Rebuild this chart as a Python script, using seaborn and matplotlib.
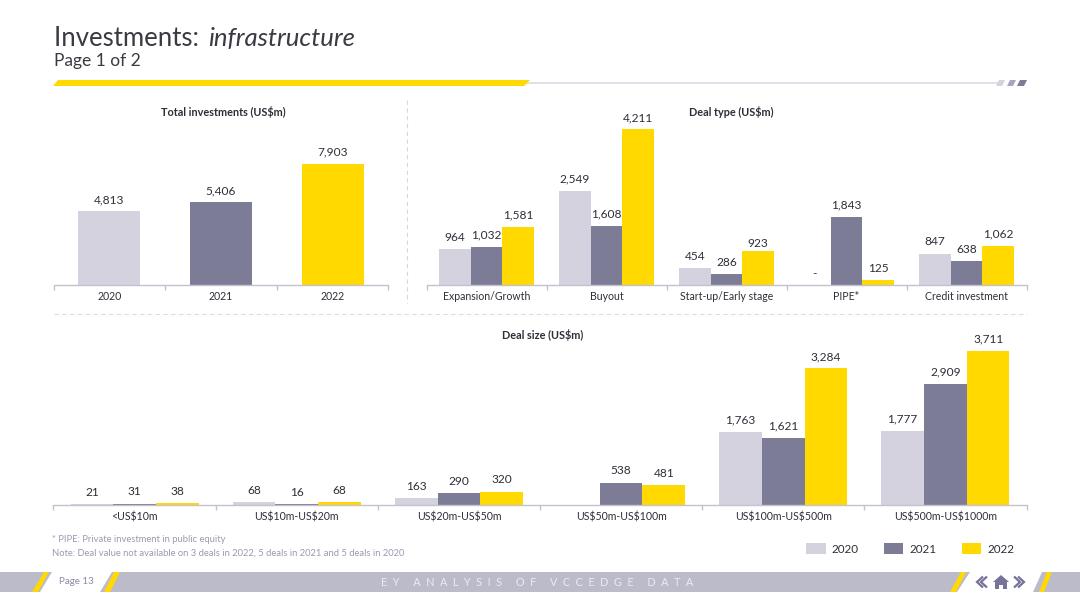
import numpy as np
import pandas as pd
import matplotlib
matplotlib.use("Agg")
import matplotlib.pyplot as plt
from matplotlib.patches import Polygon, Patch
import seaborn as sns

years = ["2020", "2021", "2022"]
total_values = [4813, 5406, 7903]

deal_types = ["Expansion/Growth", "Buyout", "Start-up/Early stage", "PIPE*", "Credit investment"]
type_2020 = [964, 2549, 454, np.nan, 847]
type_2021 = [1032, 1608, 286, 1843, 638]
type_2022 = [1581, 4211, 923, 125, 1062]

deal_sizes = ["<US$10m", "US$10m-US$20m", "US$20m-US$50m", "US$50m-US$100m", "US$100m-US$500m", "US$500m-US$1000m"]
size_2020 = [21, 68, 163, np.nan, 1763, 1777]
size_2021 = [31, 16, 290, 538, 1621, 2909]
size_2022 = [38, 68, 320, 481, 3284, 3711]

LIGHT, MID, YEL = "#d4d2de", "#7c7c96", "#ffd900"
palette = dict(zip(years, [LIGHT, MID, YEL]))
INK = "#2e2e38"
AXC = "#c4c2d0"
ICON = "#75739a"
W, H = 1080, 608
LABEL_SIZE = 8.6
TICK_SIZE = 7.6

sns.set_theme(style="white")
plt.rcParams["font.family"] = ["Lato", "DejaVu Sans"]
plt.rcParams["text.parse_math"] = False
fig = plt.figure(figsize=(W / 100, H / 100), dpi=100, facecolor="white")


def axes_px(l, t, r, b):
    return fig.add_axes([l / W, 1 - b / H, (r - l) / W, (b - t) / H], facecolor="none")


def long_form(cats, a, b, c):
    return pd.DataFrame({
        "cat": list(cats) * 3,
        "year": [years[0]] * len(cats) + [years[1]] * len(cats) + [years[2]] * len(cats),
        "val": list(a) + list(b) + list(c),
    })


def style(ax, cats, ymax):
    n = len(cats)
    ax.set_ylim(0, ymax)
    ax.set_xlim(-0.5, n - 0.5)
    ax.set_xlabel("")
    ax.set_ylabel("")
    ax.set_yticks([])
    for s in ["top", "left", "right"]:
        ax.spines[s].set_visible(False)
    ax.spines["bottom"].set_color(AXC)
    ax.spines["bottom"].set_linewidth(1)
    ax.set_xticks(range(n))
    ax.set_xticklabels(cats, fontsize=TICK_SIZE, color=INK)
    ax.tick_params(axis="x", which="major", length=0, pad=4.5)
    ax.set_xticks(np.arange(n + 1) - 0.5, minor=True)
    ax.tick_params(axis="x", which="minor", bottom=True, length=3.5, color=AXC, width=1, direction="out")


def add_labels(ax):
    out = []
    for c in ax.containers:
        out.append(ax.bar_label(c, fmt="{:,.0f}", padding=4.5, fontsize=LABEL_SIZE, color=INK))
    return out


# Panel 1
ax1 = axes_px(53.5, 100, 388.5, 285)
df1 = pd.DataFrame({"cat": years, "year": years, "val": total_values})
sns.barplot(data=df1, x="cat", y="val", hue="year", palette=palette, width=0.556,
            dodge=False, legend=False, ax=ax1, saturation=1, linewidth=0)
style(ax1, years, 12090)
add_labels(ax1)

# Panel 2
ax2 = axes_px(426.5, 100, 1026.5, 285)
sns.barplot(data=long_form(deal_types, type_2020, type_2021, type_2022), x="cat", y="val", hue="year",
            palette=palette, width=0.79, gap=0, legend=False, ax=ax2, saturation=1, linewidth=0)
style(ax2, deal_types, 5000)
labels2 = add_labels(ax2)
labels2[2][2].xyann = (0, 1.5)
ax2.annotate("-", (deal_types.index("PIPE*") - 0.79 / 3, 0), xytext=(0, 6), textcoords="offset points",
             ha="center", fontsize=LABEL_SIZE, color=INK)

# Panel 3
ax3 = axes_px(53.5, 325, 1026.5, 505)
sns.barplot(data=long_form(deal_sizes, size_2020, size_2021, size_2022), x="cat", y="val", hue="year",
            palette=palette, width=0.79, gap=0, legend=False, ax=ax3, saturation=1, linewidth=0)
style(ax3, deal_sizes, 4325)
add_labels(ax3)

# Overlay in pixel coordinates for page furniture
ov = fig.add_axes([0, 0, 1, 1], facecolor="none", zorder=-1)
ov.set_xlim(0, W)
ov.set_ylim(H, 0)
ov.axis("off")


def poly(pts, color, z=1):
    ov.add_patch(Polygon(pts, closed=True, facecolor=color, edgecolor="none", zorder=z))


# Title
TITLE = "#3a3a44"
t1 = ov.text(54, 38.5, "Investments: ", fontsize=18.5, color=TITLE, va="center", ha="left")
ov.annotate("infrastructure", xy=(1, 0.5), xycoords=t1, xytext=(2, 0), textcoords="offset points",
            fontsize=18.5, color=TITLE, va="center", ha="left", style="italic")
ov.text(54, 61, "Page 1 of 2", fontsize=12.5, color=TITLE, va="center", ha="left")

# Header rule
ov.plot([525, 998], [83, 83], color="#dcd9e4", lw=1.2, zorder=1)
poly([(53, 86), (58, 80), (530, 80), (524, 86)], YEL, 2)
poly([(996, 86), (999, 80), (1005, 80), (1002, 86)], "#d4d2de", 2)
poly([(1007, 86), (1010, 80), (1016, 80), (1013, 86)], "#a8a6bd", 2)
poly([(1017, 86), (1020, 80), (1027, 80), (1024, 86)], "#7d7b97", 2)

# Dividers
ov.plot([407, 407], [100, 303], color="#d8d7e0", lw=0.8, ls=(0, (4, 3)))
ov.plot([54, 1027], [314, 314], color="#dddce4", lw=0.8, ls=(0, (4, 3)))

# Panel titles
for x, y, s in [(223, 112, "Total investments (US$m)"), (731, 112, "Deal type (US$m)"), (543, 335, "Deal size (US$m)")]:
    ov.text(x, y, s, fontsize=7.8, fontweight="bold", color=INK, ha="center", va="center")

# Footnotes
ov.text(52, 540, "* PIPE: Private investment in public equity", fontsize=6.75, color="#9b99b2", va="center")
ov.text(52, 553, "Note: Deal value not available on 3 deals in 2022, 5 deals in 2021 and 5 deals in 2020",
        fontsize=6.75, color="#9b99b2", va="center")

# Footer
FB = "#bcbbc9"
poly([(0, 572), (W, 572), (W, 592), (0, 592)], FB, 1)
poly([(40, 592), (52, 572), (112, 572), (100, 592)], "white", 2)
poly([(957, 592), (970, 572), (1042, 572), (1033, 592)], "white", 2)
for pts in [[(32, 592), (38, 592), (49, 572), (44, 572)],
            [(104, 592), (110, 592), (120, 572), (114, 572)],
            [(950, 592), (956, 592), (966, 572), (961, 572)],
            [(1039, 592), (1044, 592), (1052, 572), (1047, 572)]]:
    poly(pts, YEL, 3)
ov.text(59, 582, "Page 13", fontsize=7, color="#8a8aa2", va="center")
ov.text(537.5, 582, "E  Y     A  N  A  L  Y  S  I  S     O  F     V  C  C  E  D  G  E     D  A  T  A", fontsize=7.8,
        color="#ebebf0", ha="center", va="center")
for x0, sgn in [(980, -1), (984, -1), (1021, 1), (1017, 1)]:
    ov.plot([x0 - sgn * 3, x0 + sgn * 3, x0 - sgn * 3], [576.5, 582, 587.5], color=ICON, lw=1.6, zorder=4,
            solid_capstyle="butt", solid_joinstyle="miter")
poly([(993, 582), (1001, 575), (1009, 582), (1007, 582), (1007, 589), (1003, 589), (1003, 585), (999, 585),
      (999, 589), (995, 589), (995, 582)], ICON, 4)

# Legend
handles = [Patch(facecolor=palette[y], edgecolor="none", label=y) for y in years]
fig.legend(handles=handles, ncols=3, frameon=False, fontsize=8.4, labelcolor=INK,
           loc="center right", bbox_to_anchor=(1014 / W, 1 - 549 / H),
           handlelength=1.65, handleheight=1.1, handletextpad=0.5, columnspacing=2.2, borderpad=0, borderaxespad=0)

fig.savefig("out.png", dpi=100, facecolor="white")
